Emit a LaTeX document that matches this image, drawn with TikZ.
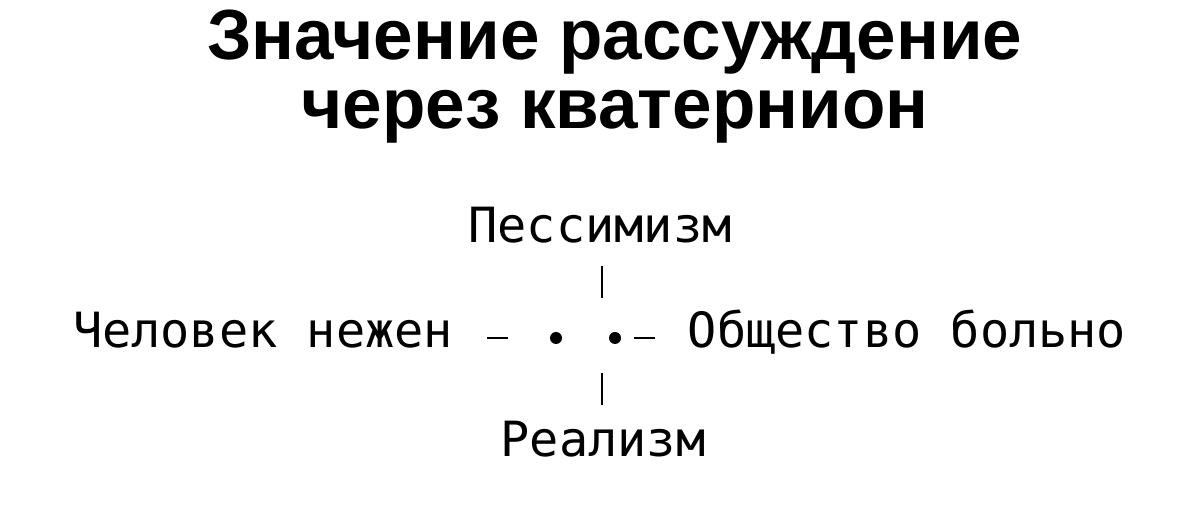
\documentclass[tikz,border=0pt]{standalone}
\usepackage{fontspec}
\setmainfont{Liberation Sans}
\setmonofont{DejaVu Sans Mono}

\tikzset{
  headline/.style={font=\bfseries\fontsize{20.2}{20.2}\selectfont, anchor=base, inner sep=0pt},
  term/.style={font=\ttfamily\fontsize{13.8}{13.8}\selectfont, anchor=base, inner sep=0pt},
  tick/.style={line width=0.6pt},
  spot/.style={circle, fill, inner sep=0pt, minimum size=0.12cm}
}

\begin{document}
\begin{tikzpicture}[x=0.01cm, y=-0.01cm]
  \useasboundingbox (0,0) rectangle (1200,510);
  % title
  \node[headline] (head1) at (615,60) {Значение рассуждение};
  \node[headline] (head2) at (615,129) {через кватернион};
  % the four terms
  \node[term] (top) at (600,243) {Пессимизм};
  \node[term] (left) at (263,348) {Человек нежен};
  \node[term] (right) at (907,348) {Общество больно};
  \node[term] (bottom) at (603,457) {Реализм};
  % centre
  \node[spot] (dotL) at (556,338) {};
  \node[spot] (dotR) at (615,338) {};
  \coordinate (upA) at (602,266);
  \coordinate (upB) at (602,298);
  \coordinate (downA) at (602,373);
  \coordinate (downB) at (602,405);
  \coordinate (leftA) at (487,338);
  \coordinate (leftB) at (508,338);
  \coordinate (rightA) at (634,338);
  \coordinate (rightB) at (655,338);
  \draw[tick] (upA) -- (upB);
  \draw[tick] (downA) -- (downB);
  \draw[tick] (leftA) -- (leftB);
  \draw[tick] (rightA) -- (rightB);
\end{tikzpicture}
\end{document}
